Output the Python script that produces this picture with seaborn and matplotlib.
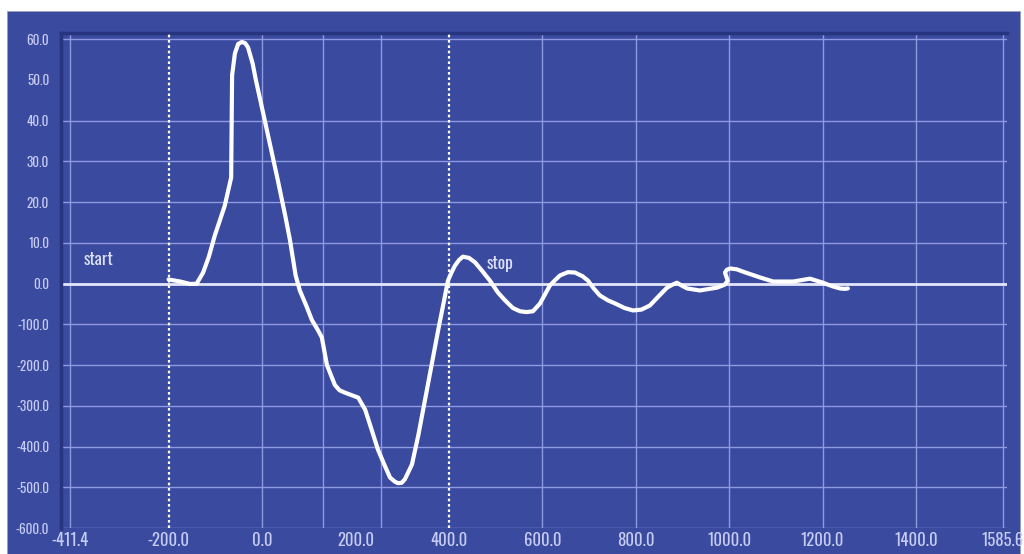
import numpy as np
import pandas as pd
import matplotlib
matplotlib.use("Agg")
import matplotlib.pyplot as plt
import seaborn as sns
from matplotlib.patches import Rectangle
from matplotlib.ticker import FixedLocator, FixedFormatter

# Recorded response trace (time in ms, amplitude)
time_ms = [-200, -175, -154, -140, -126, -114, -101, -80, -70, -66, -64, -58, -51, -43, -36,
           -30, -20, -13, 6, 34, 50, 60, 72, 81, 95, 107, 120, 128, 139, 156, 166, 178, 192,
           206, 221, 235, 248, 262, 274, 284, 291, 299, 306, 321, 335, 349, 363, 377, 390,
           398, 406, 413, 422, 430, 443, 456, 472, 488, 505, 520, 537, 552, 566, 580, 595,
           616, 627, 638, 655, 670, 686, 698, 710, 723, 740, 756, 776, 794, 812, 830, 850,
           867, 878, 888, 900, 910, 937, 974, 990, 997, 993, 991, 995, 1002, 1016, 1030,
           1066, 1094, 1137, 1173, 1201, 1212, 1222, 1237, 1248, 1254]
amplitude = [1.0, 0.5, -1.0, -0.5, 2.7, 6.5, 11.8, 19.0, 24.0, 26.0, 51.1, 56.5, 58.8,
             59.3, 59.0, 58.0, 54.0, 49.9, 40.0, 25.3, 16.5, 10.6, 2.0, -17.0, -55.0, -90.0,
             -115.0, -132.0, -200.0, -249.0, -262.0, -268.0, -274.0, -280.0, -310.0, -360.0,
             -407.0, -445.0, -476.0, -486.0, -490.0, -489.0, -480.0, -444.0, -370.0, -285.0,
             -200.0, -115.0, -40.0, 0.7, 2.8, 4.4, 5.8, 6.6, 6.3, 5.2, 3.0, 0.7, -22.0,
             -41.0, -60.0, -68.0, -70.0, -68.0, -49.0, -5.0, 0.8, 2.0, 2.8, 2.7, 1.8, 0.7,
             -12.0, -29.0, -41.0, -49.0, -60.0, -66.0, -64.0, -54.0, -30.0, -10.0, -3.0,
             0.2, -6.0, -12.0, -17.0, -10.0, -3.0, 0.7, 2.0, 2.7, 3.4, 3.7, 3.5, 2.9, 1.5,
             0.5, 0.5, 1.2, 0.2, -3.0, -7.0, -12.0, -13.0, -12.0]

x_ticks = [-411.4, -200.0, 0.0, 200.0, 400.0, 600.0, 800.0, 1000.0, 1200.0, 1400.0, 1585.6]
y_ticks = [-600, -500, -400, -300, -200, -100, 0, 10, 20, 30, 40, 50, 60]
event_times = [-200.0, 400.0]
event_labels = ["start", "stop"]

df = pd.DataFrame({"time": time_ms, "amp": amplitude})

PANEL = "#3a4a9f"
DARK = "#27347f"
GRID = "#8f9be0"
LABEL = "#c6ccf3"

sns.set_style("dark")
plt.rcParams["font.family"] = ["Oswald", "Open Sans Condensed", "IBM Plex Sans Condensed",
                               "DejaVu Sans"]
plt.rcParams["axes.unicode_minus"] = False

W, H = 1024, 554
fig = plt.figure(figsize=(W / 100, H / 100), dpi=100, facecolor="white")
panel = Rectangle((7 / W, 0), 1013 / W, 543 / H, transform=fig.transFigure,
                  facecolor=PANEL, edgecolor="#9aa0b8", linewidth=0.6, zorder=-10)
fig.patches.append(panel)

ax = fig.add_axes([61 / W, (H - 528) / H, 946 / W, 495 / H])
ax.set_zorder(5)
ax.set_facecolor(PANEL)


# split scale: positive side in units of 10, negative side in units of 100
def fwd(v):
    v = np.asarray(v, dtype=float)
    return np.where(v >= 0, v / 10.0, v / 100.0)


def inv(v):
    v = np.asarray(v, dtype=float)
    return np.where(v >= 0, v * 10.0, v * 100.0)


ax.set_yscale("function", functions=(fwd, inv))
ax.set_xlim(-430.2, 1594.6)
ax.set_ylim(-600, 61.5)

# grid
for gx in [-411.4, 0.0, 130.0, 255.0, 600.0, 800.0, 1000.0, 1200.0, 1400.0, 1585.6]:
    ax.axvline(gx, color=GRID, lw=1.0, zorder=1)
for gy in [-600, -500, -400, -300, -200, -100, 10, 20, 30, 40, 60]:
    ax.axhline(gy, color=GRID, lw=1.0, zorder=1)
ax.axhline(0, color="#e4e7fb", lw=2.0, zorder=2)

for t in event_times:
    ax.axvline(t, color="white", lw=1.6, linestyle=(0, (1.2, 1.2)), zorder=3)

sns.lineplot(data=df, x="time", y="amp", sort=False, estimator=None, color="white",
             linewidth=3.0, ax=ax, zorder=4)
for ln in ax.lines[-1:]:
    ln.set_solid_joinstyle("round")
    ln.set_solid_capstyle("round")

ax.text(-351, 5.9, event_labels[0], color="#dde1fa", fontsize=12.5, fontweight="medium",
        ha="center", va="center", zorder=5)
ax.text(509, 5.0, event_labels[1], color="#dde1fa", fontsize=12.5, fontweight="medium",
        ha="center", va="center", zorder=5)

ax.xaxis.set_major_locator(FixedLocator(x_ticks))
ax.xaxis.set_major_formatter(FixedFormatter([f"{v:.1f}" for v in x_ticks]))
ax.yaxis.set_major_locator(FixedLocator(y_ticks))
ax.yaxis.set_major_formatter(FixedFormatter([f"{v:.1f}" for v in y_ticks]))
ax.yaxis.set_minor_locator(FixedLocator([]))
ax.xaxis.set_minor_locator(FixedLocator([]))

ax.tick_params(axis="x", length=0, pad=3, labelsize=12, labelcolor=LABEL)
ax.tick_params(axis="y", length=8, width=1.0, color=GRID, pad=0.5, labelsize=9.5,
               labelcolor=LABEL)
for lab in ax.get_xticklabels() + ax.get_yticklabels():
    lab.set_fontweight("medium")
for tk, v in zip(ax.yaxis.get_major_ticks(), y_ticks):
    if v == 50:
        tk.tick1line.set_visible(False)
    if v == 0:
        tk.tick1line.set_color("#e4e7fb")

ax.set_xlabel("")
ax.set_ylabel("")
ax.grid(False)
for side in ["right", "bottom"]:
    ax.spines[side].set_visible(False)
for side in ["top", "left"]:
    ax.spines[side].set_visible(True)
    ax.spines[side].set_color(DARK)
    ax.spines[side].set_linewidth(2.5)

fig.savefig("out.png", dpi=100, facecolor="white")
